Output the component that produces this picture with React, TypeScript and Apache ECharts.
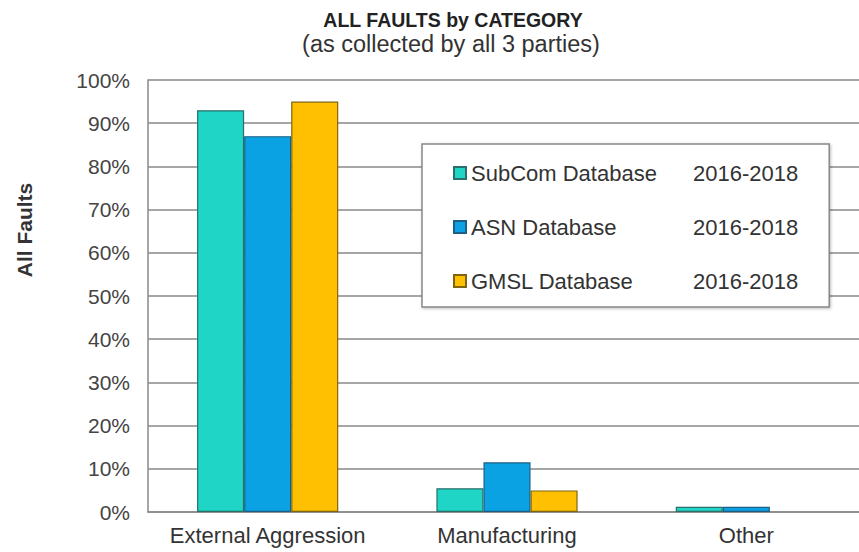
import React, { useEffect, useRef } from "react";
import * as echarts from "echarts";

const categories = ["External Aggression", "Manufacturing", "Other"];
const seriesNames = ["SubCom Database", "ASN Database", "GMSL Database"];
const seriesYears = ["2016-2018", "2016-2018", "2016-2018"];
const subcomValues = [93, 5.5, 1.2];
const asnValues = [87, 11.5, 1.2];
const gmslValues = [95, 5, 0];
const yTicks = [0, 10, 20, 30, 40, 50, 60, 70, 80, 90, 100];

const FONT = "'Liberation Sans', Arial, sans-serif";

export default function App() {
  const ref = useRef<HTMLDivElement>(null);
  useEffect(() => {
    if (!ref.current) return;
    document.body.style.overflow = "hidden";
    const chart = echarts.init(ref.current, undefined, { renderer: "svg" });
    const colors = ["#1fd5c6", "#0aa2e2", "#fec000"];
    const borders = ["#2a6f6a", "#1c5f86", "#7f6510"];
    const values = [subcomValues, asnValues, gmslValues];
    chart.setOption({
      animation: false,
      backgroundColor: "#ffffff",
      textStyle: { fontFamily: FONT },
      title: [
        {
          text: "ALL FAULTS by CATEGORY",
          left: 453,
          textAlign: "center",
          top: 10,
          padding: 0,
          textStyle: { fontFamily: FONT, fontSize: 19.5, fontWeight: "bold", color: "#222" },
        },
        {
          text: "(as collected by all 3 parties)",
          left: 451,
          textAlign: "center",
          top: 32,
          padding: 0,
          textStyle: { fontFamily: FONT, fontSize: 23.5, fontWeight: "normal", color: "#333" },
        },
      ],
      grid: { left: 148, right: 0, top: 80, bottom: 40, containLabel: false },
      xAxis: {
        type: "category",
        data: categories,
        axisLine: { show: true, lineStyle: { color: "#888", width: 1.5 } },
        axisTick: { show: false },
        axisLabel: { fontFamily: FONT, fontSize: 22, color: "#333", margin: 12, interval: 0 },
      },
      yAxis: {
        type: "value",
        min: yTicks[0],
        max: yTicks[yTicks.length - 1],
        interval: 10,
        axisLine: { show: true, lineStyle: { color: "#888", width: 1.5 } },
        axisTick: { show: false },
        splitLine: { show: true, lineStyle: { color: "#888", width: 1.5 } },
        axisLabel: { fontFamily: FONT, fontSize: 21, color: "#444", margin: 18, formatter: "{value}%" },
      },
      legend: {
        orient: "vertical",
        left: 422,
        top: 144,
        padding: [18, 31, 15, 31],
        itemGap: 32,
        itemWidth: 12,
        itemHeight: 12,
        icon: "rect",
        backgroundColor: "#fff",
        borderColor: "#888",
        borderWidth: 1.5,
        shadowColor: "rgba(0,0,0,0.25)",
        shadowBlur: 3,
        shadowOffsetX: 1,
        shadowOffsetY: 1,
        data: seriesNames,
        formatter: (name: string) => {
          const i = seriesNames.indexOf(name);
          return `{a|${name}}{b|${seriesYears[i]}}`;
        },
        textStyle: {
          fontFamily: FONT,
          fontSize: 22,
          color: "#333",
          rich: {
            a: { width: 222, fontSize: 22, fontFamily: FONT, color: "#333" },
            b: { fontSize: 22, fontFamily: FONT, color: "#333" },
          },
        },
      },
      graphic: [
        {
          type: "text",
          x: 24,
          y: 230,
          rotation: Math.PI / 2,
          style: {
            text: "All Faults",
            fontFamily: FONT,
            fontSize: 21,
            fontWeight: "bold",
            fill: "#333",
            align: "center",
            verticalAlign: "middle",
          },
        },
      ],
      series: seriesNames.map((name, i) => ({
        name,
        type: "bar",
        data: values[i].map((v) => (v === 0 ? { value: v, itemStyle: { borderWidth: 0 } } : v)),
        barGap: "0%",
        barCategoryGap: "41%",
        itemStyle: { color: colors[i], borderColor: borders[i], borderWidth: 1.2 },
      })),
    });
    return () => chart.dispose();
  }, []);
  return (
    <div
      ref={ref}
      style={{ position: "fixed", left: 0, top: 0, width: 866, height: 552 }}
    />
  );
}
